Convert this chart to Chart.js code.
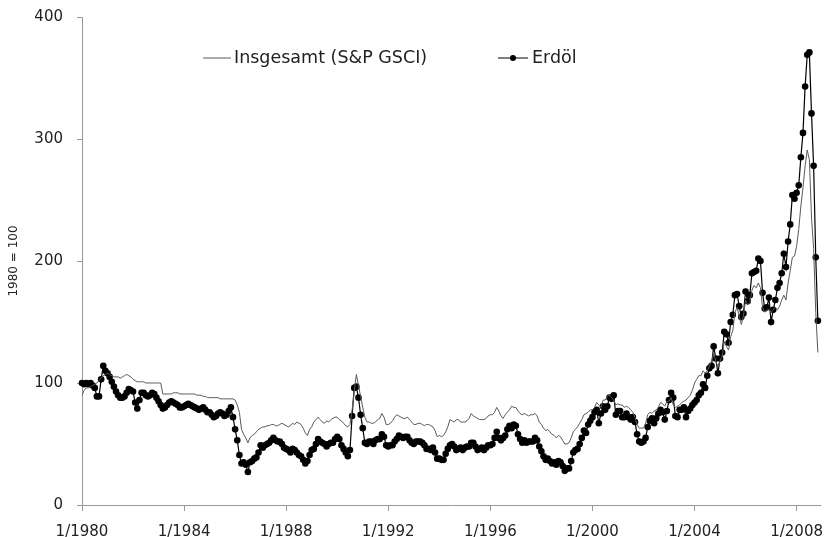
<!DOCTYPE html>
<html>
<head>
<meta charset="utf-8">
<script src="https://cdn.jsdelivr.net/npm/chart.js@4.4.0/dist/chart.umd.min.js"></script>
<style>
  html, body { margin: 0; padding: 0; background: #fff; }
  #wrap { width: 824px; height: 537px; position: relative; }
</style>
</head>
<body>
<div id="wrap"><canvas id="chart"></canvas></div>
<script>
// ===== DATA =====
// monthly categories 1/1980 .. 12/2008
const labels = [];
for (let y = 1980; y <= 2008; y++) {
    for (let m = 1; m <= 12; m++) labels.push(m + '/' + y);
}

const tickLabels = ['1/1980', '1/1984', '1/1988', '1/1992', '1/1996', '1/2000', '1/2004', '1/2008'];
const seriesNames = ['Insgesamt (S&P GSCI)', 'Erdöl'];
const yTitle = '1980 = 100';

// S&P GSCI total, 1980 = 100 (one row per year)
const gsci = [
    90, 94, 96, 96, 97, 98, 99, 100, 102, 104, 106, 107,
    108, 107, 106, 105, 105, 105, 104, 105, 106, 107, 106, 105,
    103, 102, 101, 101, 101, 101, 100, 100, 100, 100, 100, 100,
    100, 100, 91, 91, 91, 91, 91, 92, 92, 92, 91, 91,
    91, 91, 91, 91, 91, 91, 90, 90, 90, 89, 89, 88,
    88, 88, 88, 88, 88, 87, 87, 87, 87, 87, 87, 87,
    86, 82, 76, 62, 58, 55, 51, 55, 57, 58, 60, 62,
    63, 64, 64, 65, 65, 66, 66, 65, 65, 66, 67, 66,
    65, 64, 65, 67, 66, 68, 67, 66, 63, 59, 57, 62,
    64, 68, 70, 72, 70, 68, 67, 69, 68, 70, 71, 72,
    72, 70, 69, 67, 65, 64, 66, 78, 93, 107, 98, 89,
    80, 72, 68, 68, 67, 67, 68, 70, 71, 75, 72, 66,
    66, 67, 69, 72, 74, 73, 72, 71, 71, 72, 70, 68,
    66, 66, 67, 67, 66, 65, 66, 66, 65, 64, 61, 56,
    57, 56, 57, 60, 64, 70, 69, 68, 70, 70, 68, 68,
    68, 69, 71, 75, 73, 72, 71, 70, 70, 70, 71, 73,
    74, 74, 76, 80, 77, 73, 71, 74, 76, 78, 81, 80,
    80, 77, 75, 74, 75, 74, 73, 74, 74, 75, 73, 68,
    66, 63, 61, 62, 60, 58, 57, 55, 57, 56, 53, 50,
    50, 51, 55, 60, 62, 64, 67, 70, 74, 75, 76, 78,
    78, 80, 84, 82, 80, 86, 86, 89, 90, 88, 86, 82,
    83, 82, 82, 80, 81, 80, 78, 76, 72, 66, 63, 63,
    63, 67, 74, 76, 75, 77, 78, 80, 84, 83, 81, 85,
    85, 88, 82, 80, 81, 82, 84, 85, 86, 88, 90, 94,
    100, 103, 106, 106, 110, 108, 110, 114, 118, 124, 118, 113,
    118, 122, 134, 130, 127, 138, 143, 158, 162, 155, 148, 155,
    168, 164, 166, 176, 180, 178, 182, 178, 162, 158, 160, 160,
    158, 160, 162, 160, 163, 168, 172, 168, 182, 192, 203, 204,
    212, 226, 245, 260, 278, 291, 283, 236, 210, 158, 125
];

// crude oil, 1980 = 100 (one row per year)
const oil = [
    100, 99, 100, 99, 100, 98, 96, 89, 89, 103, 114, 110,
    108, 105, 101, 97, 93, 90, 88, 88, 89, 92, 95, 94,
    93, 84, 79, 86, 92, 92, 90, 89, 90, 92, 91, 88,
    85, 82, 79, 80, 82, 84, 85, 84, 83, 82, 80, 80,
    81, 82, 83, 82, 81, 80, 79, 78, 79, 80, 78, 76,
    76, 74, 72, 73, 75, 76, 75, 73, 74, 77, 80, 72,
    62, 53, 41, 34, 35, 33, 27, 35, 36, 38, 39, 43,
    49, 47, 49, 50, 51, 53, 55, 53, 52, 52, 50, 47,
    46, 45, 43, 46, 45, 43, 41, 40, 37, 34, 36, 41,
    45, 46, 50, 54, 52, 51, 50, 48, 50, 51, 51, 54,
    56, 54, 49, 46, 43, 40, 45, 73, 96, 97, 88, 74,
    63, 51, 50, 52, 52, 50, 53, 54, 54, 58, 56, 49,
    48, 49, 49, 52, 54, 57, 56, 55, 56, 56, 53, 51,
    50, 52, 52, 52, 51, 49, 46, 46, 45, 47, 43, 38,
    38, 37, 37, 42, 46, 49, 50, 48, 45, 46, 47, 45,
    47, 48, 48, 51, 51, 48, 45, 46, 47, 45, 47, 49,
    49, 50, 55, 60, 55, 53, 55, 57, 62, 65, 63, 66,
    65, 58, 54, 51, 53, 51, 52, 52, 52, 55, 53, 48,
    44, 40, 37, 38, 36, 34, 35, 33, 36, 35, 32, 28,
    30, 30, 36, 43, 45, 46, 50, 55, 61, 59, 66, 69,
    72, 76, 78, 67, 75, 81, 78, 81, 88, 87, 90, 74,
    77, 77, 72, 72, 75, 72, 70, 72, 68, 58, 52, 51,
    52, 55, 64, 69, 71, 67, 71, 75, 78, 76, 70, 77,
    86, 92, 88, 73, 72, 78, 78, 80, 72, 77, 79, 82,
    84, 86, 90, 92, 99, 96, 106, 112, 114, 130, 120, 108,
    120, 125, 142, 140, 133, 150, 156, 172, 173, 163, 154, 157,
    175, 167, 172, 190, 191, 192, 202, 200, 174, 161, 162, 170,
    150, 160, 168, 178, 182, 190, 206, 195, 216, 230, 254, 251,
    256, 262, 285, 305, 343, 369, 371, 321, 278, 203, 151
];

// ===== STYLE =====
const FONT = '"DejaVu Sans", sans-serif';
const TEXT = '#222';
const AXIS = '#999';
const GSCI_COLOR = '#5a5a5a';
const OIL_COLOR = '#000';

Chart.defaults.font.family = FONT;
Chart.defaults.color = TEXT;

// legend drawn inside the plot, like the original
const insideLegend = {
    id: 'insideLegend',
    afterDraw(chart) {
        const ctx = chart.ctx;
        const y = 58;
        ctx.save();
        ctx.font = '17.5px ' + FONT;
        ctx.textBaseline = 'middle';
        ctx.fillStyle = TEXT;

        ctx.strokeStyle = GSCI_COLOR;
        ctx.lineWidth = 1;
        ctx.beginPath();
        ctx.moveTo(203, y);
        ctx.lineTo(231, y);
        ctx.stroke();
        ctx.fillText(seriesNames[0], 234, y);

        ctx.strokeStyle = OIL_COLOR;
        ctx.beginPath();
        ctx.moveTo(498, y);
        ctx.lineTo(528, y);
        ctx.stroke();
        ctx.fillStyle = OIL_COLOR;
        ctx.beginPath();
        ctx.arc(513, y, 3, 0, Math.PI * 2);
        ctx.fill();
        ctx.fillStyle = TEXT;
        ctx.fillText(seriesNames[1], 532, y);
        ctx.restore();
    }
};

new Chart(document.getElementById('chart'), {
    type: 'line',
    data: {
        labels: labels,
        datasets: [
            {
                label: seriesNames[0],
                data: gsci,
                borderColor: GSCI_COLOR,
                borderWidth: 1,
                pointRadius: 0,
                tension: 0
            },
            {
                label: seriesNames[1],
                data: oil,
                borderColor: OIL_COLOR,
                backgroundColor: OIL_COLOR,
                borderWidth: 1.2,
                pointRadius: 3.3,
                pointBorderWidth: 0,
                tension: 0
            }
        ]
    },
    options: {
        responsive: true,
        maintainAspectRatio: false,
        animation: false,
        layout: { padding: { top: 17, right: 3, bottom: 0, left: 0 } },
        plugins: {
            legend: { display: false },
            tooltip: { enabled: false }
        },
        scales: {
            x: {
                type: 'category',
                afterFit: (scale) => {
                    scale.height = 32;
                    scale.paddingLeft = 0;
                    scale.paddingRight = 0;
                },
                border: { color: AXIS },
                grid: { drawOnChartArea: false, drawTicks: true, tickLength: 6, color: AXIS },
                ticks: {
                    autoSkip: false,
                    maxRotation: 0,
                    minRotation: 0,
                    padding: 12,
                    font: { size: 15 },
                    callback: function (value) {
                        const lbl = this.getLabelForValue(value);
                        return tickLabels.includes(lbl) ? lbl : null;
                    }
                }
            },
            y: {
                min: 0,
                max: 400,
                afterFit: (scale) => {
                    scale.width = 82;
                    scale.paddingTop = 0;
                    scale.paddingBottom = 0;
                },
                border: { color: AXIS },
                grid: { drawOnChartArea: false, drawTicks: true, tickLength: 5, color: AXIS },
                ticks: { stepSize: 100, padding: 14, font: { size: 15 } },
                title: { display: true, text: yTitle, font: { size: 12 }, padding: { top: 7, bottom: 0 } }
            }
        }
    },
    plugins: [insideLegend]
});
</script>
</body>
</html>
